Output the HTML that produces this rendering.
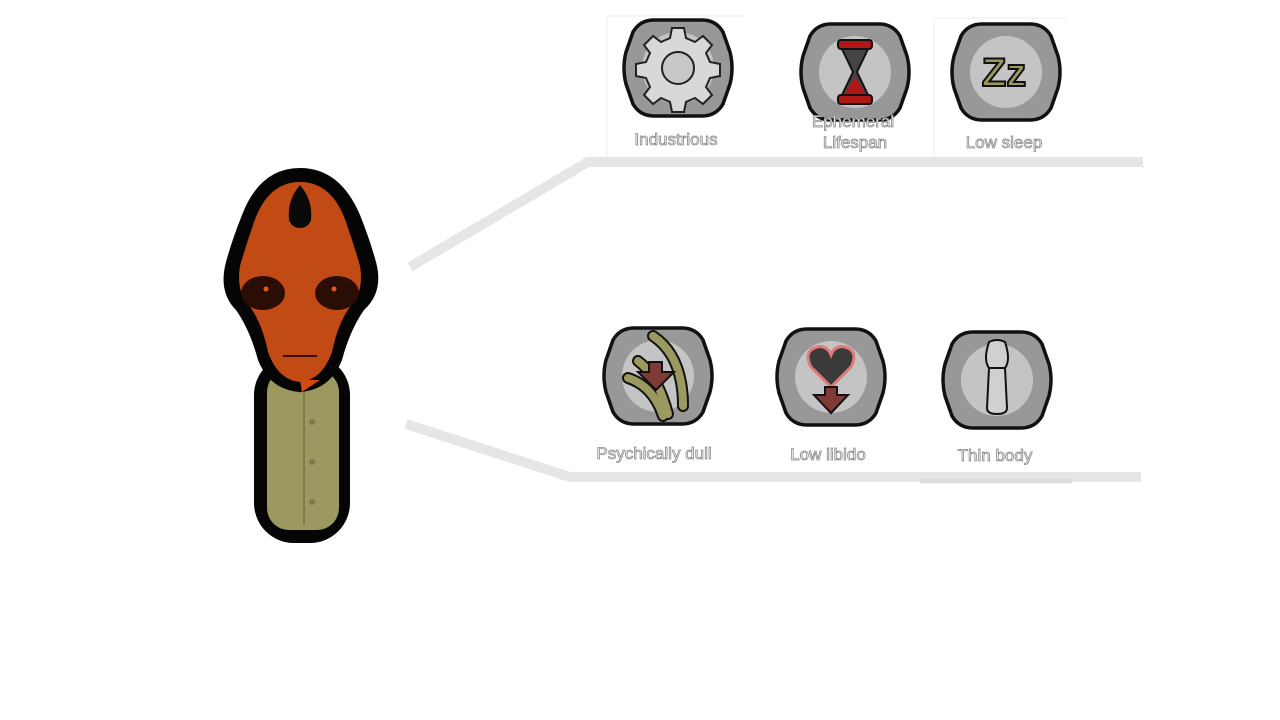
<!DOCTYPE html>
<html><head><meta charset="utf-8"><style>
body{margin:0;width:1280px;height:720px;background:#fff;overflow:hidden}
svg{position:absolute;left:0;top:0}
.t{font-family:"Liberation Sans",sans-serif;fill:#fff;stroke:#888;stroke-width:0.8px;text-anchor:middle;font-size:17px}
</style></head><body>
<svg width="1280" height="720" viewBox="0 0 1280 720">
<defs>
<g id="oct">
<path d="M-24,-48 L24,-48 Q38,-48 45,-36 L52,-16 Q56,0 52,16 L45,36 Q38,48 24,48 L-24,48 Q-38,48 -45,36 L-52,16 Q-56,0 -52,-16 L-45,-36 Q-38,-48 -24,-48Z" fill="#989898" stroke="#111" stroke-width="3.5"/>
<circle r="36" fill="#c4c4c4"/>
</g>
</defs>
<line x1="607" y1="16" x2="745" y2="16" stroke="#eee"/>
<line x1="607" y1="16" x2="607" y2="157" stroke="#eee"/>
<line x1="934" y1="18" x2="1068" y2="18" stroke="#eee"/>
<line x1="934" y1="18" x2="934" y2="160" stroke="#eee"/>
<polyline points="410,267 588,162 1143,162" fill="none" stroke="#e6e6e6" stroke-width="10"/>
<polyline points="406,424 570,477 1141,477" fill="none" stroke="#e6e6e6" stroke-width="10"/>
<line x1="920" y1="481" x2="1072" y2="481" stroke="#ddd" stroke-width="5"/>
<!-- character -->
<rect x="254" y="355" width="96" height="188" rx="40" fill="#050505"/>
<rect x="267" y="370" width="72" height="160" rx="22" fill="#9c9960"/>
<path d="M283,378 L300,392 L318,378" fill="none" stroke="#7b7a4a" stroke-width="2"/>
<line x1="304" y1="390" x2="304" y2="525" stroke="#7b7a4a" stroke-width="2"/>
<circle cx="312" cy="422" r="3" fill="#7b7a4a"/><circle cx="312" cy="462" r="3" fill="#7b7a4a"/><circle cx="312" cy="502" r="3" fill="#7b7a4a"/>
<path d="M300,168 Q260,168 242,215 Q232,240 226,262 Q218,292 236,310 Q250,330 258,360 Q270,390 300,392 Q330,390 342,360 Q350,330 364,310 Q384,292 376,262 Q370,240 360,215 Q340,168 300,168Z" fill="#050505"/>
<path d="M300,182 Q268,182 254,222 Q246,245 240,266 Q236,290 248,304 Q262,322 268,352 Q278,380 300,382 Q322,380 332,352 Q338,322 352,304 Q364,290 360,266 Q354,245 346,222 Q332,182 300,182Z" fill="#c24a14"/>
<path d="M300,185 Q287,200 289,220 Q292,228 300,228 Q308,228 311,220 Q313,200 300,185Z" fill="#0a0a0a"/>
<path d="M300,380 L320,380 L302,392Z" fill="#d14a10"/>
<ellipse cx="263" cy="293" rx="22" ry="17" fill="#2a0e06"/>
<ellipse cx="337" cy="293" rx="22" ry="17" fill="#2a0e06"/>
<circle cx="266" cy="289" r="2.5" fill="#e05a1a"/><circle cx="334" cy="289" r="2.5" fill="#e05a1a"/>
<line x1="283" y1="356" x2="317" y2="356" stroke="#3a1205" stroke-width="2"/>
<!-- top icons -->
<g transform="translate(678,68)"><use href="#oct"/>
<path d="M0,-40 l6,0 2,10 9,4 8,-6 9,9 -6,8 4,9 10,2 0,12 -10,2 -4,9 6,8 -9,9 -8,-6 -9,4 -2,10 -12,0 -2,-10 -9,-4 -8,6 -9,-9 6,-8 -4,-9 -10,-2 0,-12 10,-2 4,-9 -6,-8 9,-9 8,6 9,-4 2,-10z" fill="#d8d8d8" stroke="#222" stroke-width="2"/>
<circle r="16" fill="#c8c8c8" stroke="#222" stroke-width="2"/></g>
<g transform="translate(855,72)"><use href="#oct"/>
<rect x="-17" y="-32" width="34" height="9" rx="3" fill="#b01818" stroke="#111" stroke-width="2"/>
<rect x="-17" y="23" width="34" height="9" rx="3" fill="#b01818" stroke="#111" stroke-width="2"/>
<path d="M-13,-23 L13,-23 L2,0 L13,23 L-13,23 L-2,0Z" fill="#444" stroke="#111" stroke-width="2"/>
<path d="M0,5 L10,21 L-10,21Z" fill="#b01818"/></g>
<g transform="translate(1006,72)"><use href="#oct"/>
<text x="-2" y="14" font-family="Liberation Sans,sans-serif" font-weight="bold" font-size="40" fill="#9c9960" stroke="#111" stroke-width="2" text-anchor="middle">Zz</text></g>
<text class="t" x="676" y="145">Industrious</text>
<text class="t" x="853" y="127" font-size="15">Ephemeral</text>
<text class="t" x="855" y="148" font-size="15">Lifespan</text>
<text class="t" x="1004" y="148" font-size="16">Low sleep</text>
<!-- bottom icons -->
<g transform="translate(658,376)"><use href="#oct"/>
<path d="M-30,2 Q-5,10 5,40 M-20,-15 Q0,0 10,38 M-5,-40 Q25,-20 25,30" fill="none" stroke="#111" stroke-width="12" stroke-linecap="round"/>
<path d="M-30,2 Q-5,10 5,40 M-20,-15 Q0,0 10,38 M-5,-40 Q25,-20 25,30" fill="none" stroke="#9c9960" stroke-width="8" stroke-linecap="round"/>
<path d="M-9,-14 L4,-14 L4,-4 L16,-4 L-2,14 L-20,-4 L-9,-4Z" fill="#803a36" stroke="#111" stroke-width="2"/></g>
<g transform="translate(831,377)"><use href="#oct"/>
<path d="M0,10 L-20,-10 Q-28,-26 -14,-30 Q-4,-32 0,-22 Q4,-32 14,-30 Q28,-26 20,-10Z" fill="#3a3a3a" stroke="#e07a7a" stroke-width="3"/>
<path d="M-6,10 L6,10 L6,18 L17,18 L0,36 L-17,18 L-6,18Z" fill="#803a36" stroke="#111" stroke-width="2"/></g>
<g transform="translate(997,380)"><use href="#oct"/>
<path d="M-8,-38 Q0,-42 8,-38 Q14,-20 8,-12 L10,28 Q10,34 0,34 Q-10,34 -10,28 L-8,-12 Q-14,-20 -8,-38Z" fill="#d0d0d0" stroke="#111" stroke-width="2"/>
<line x1="-8" y1="-12" x2="8" y2="-12" stroke="#111" stroke-width="2"/></g>
<text class="t" x="654" y="459" font-size="18">Psychically dull</text>
<text class="t" x="828" y="460" font-size="18">Low libido</text>
<text class="t" x="995" y="461" font-size="18">Thin body</text>
</svg>
</body></html>
